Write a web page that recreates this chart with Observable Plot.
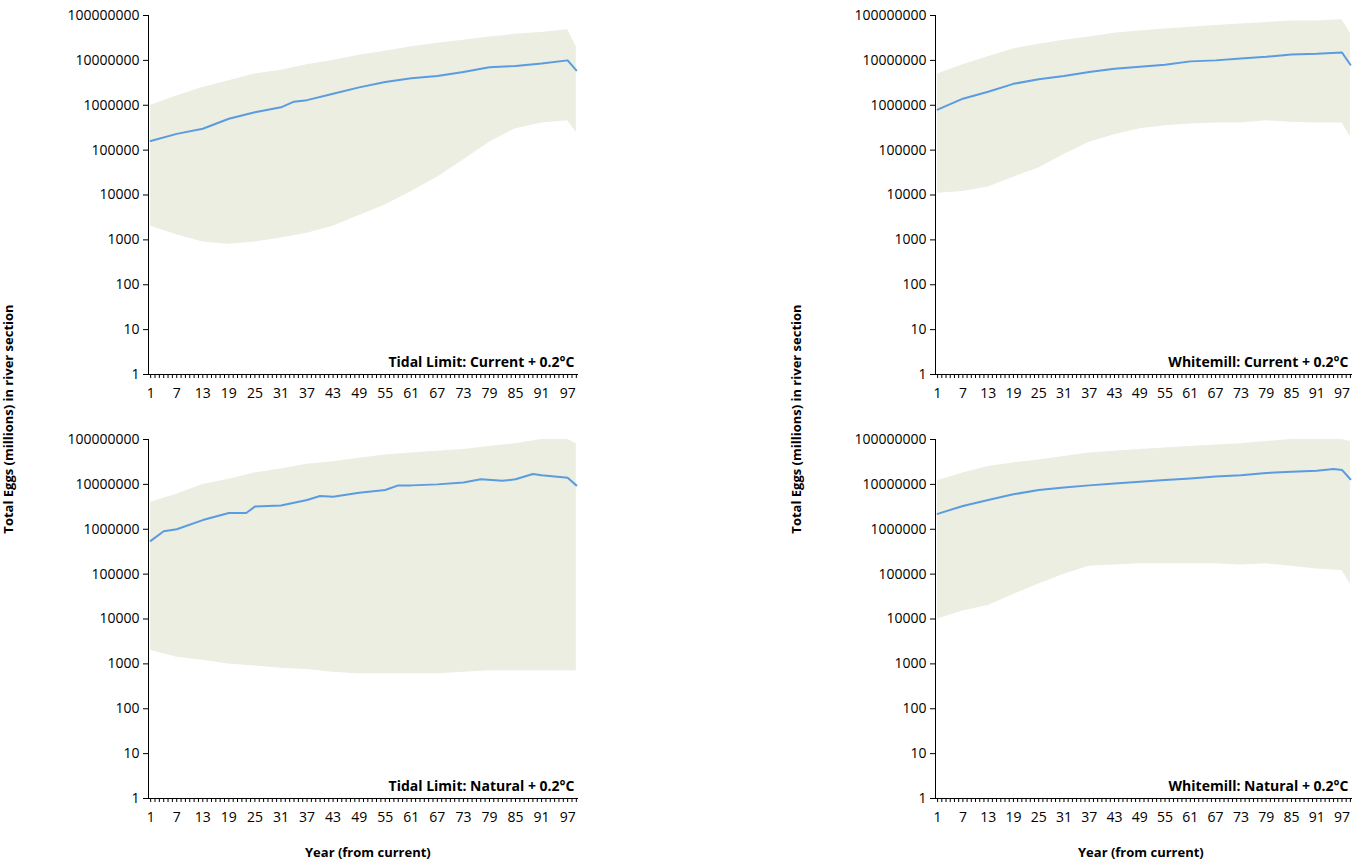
<!DOCTYPE html>
<html>
<head>
<meta charset="utf-8">
<script src="https://cdn.jsdelivr.net/npm/d3@7"></script>
<script src="https://cdn.jsdelivr.net/npm/@observablehq/plot@0.6"></script>
<style>
  body { margin: 0; background: #fff; font-family: "Open Sans", "Liberation Sans", sans-serif; }
  #wrap { position: relative; width: 1357px; height: 865px; overflow: hidden; }
  .panel { position: absolute; }
  .panel svg { max-width: none; }
  .ytitle { position: absolute; font-weight: bold; font-size: 13px; transform: rotate(-90deg); transform-origin: center; white-space: nowrap; }
  .xtitle { position: absolute; font-weight: bold; font-size: 13px; }
</style>
</head>
<body>
<div id="wrap">
  <div class="panel" id="p1" style="left:0;top:0"></div>
  <div class="panel" id="p2" style="left:787px;top:0"></div>
  <div class="panel" id="p3" style="left:0;top:424px"></div>
  <div class="panel" id="p4" style="left:787px;top:424px"></div>
  <div class="ytitle" style="left:-107px;top:410px">Total Eggs (millions) in river section</div>
  <div class="ytitle" style="left:681px;top:410px">Total Eggs (millions) in river section</div>
  <div class="xtitle" style="left:305px;top:843px">Year (from current)</div>
  <div class="xtitle" style="left:1078px;top:843px">Year (from current)</div>
</div>
<script>
// années échantillonnées
const yearsA = [1, 7, 13, 19, 25, 31, 37, 43, 49, 55, 61, 67, 73, 79, 85, 91, 97, 99];

// Tidal Limit: Current
const tcMedYears = [1, 7, 13, 19, 25, 31, 34, 37, 43, 49, 55, 61, 67, 73, 79, 85, 91, 97, 99];
const tcMed = [1.6e5, 2.3e5, 3e5, 5e5, 7e5, 9e5, 1.2e6, 1.3e6, 1.8e6, 2.5e6, 3.3e6, 4e6, 4.5e6, 5.5e6, 7e6, 7.5e6, 8.5e6, 1e7, 6e6];
const tcHigh = [1e6, 1.6e6, 2.5e6, 3.5e6, 5e6, 6e6, 8e6, 1e7, 1.3e7, 1.6e7, 2e7, 2.4e7, 2.8e7, 3.3e7, 3.8e7, 4.2e7, 4.8e7, 2e7];
const tcLow = [2000, 1300, 900, 800, 900, 1100, 1400, 2000, 3500, 6000, 12000, 25000, 60000, 150000, 300000, 400000, 450000, 250000];

// Whitemill: Current
const wcMed = [8e5, 1.4e6, 2e6, 3e6, 3.8e6, 4.5e6, 5.5e6, 6.5e6, 7.2e6, 8e6, 9.5e6, 1e7, 1.1e7, 1.2e7, 1.35e7, 1.4e7, 1.5e7, 8e6];
const wcHigh = [5e6, 8e6, 1.2e7, 1.8e7, 2.3e7, 2.8e7, 3.3e7, 4e7, 4.5e7, 5e7, 5.5e7, 6e7, 6.5e7, 7e7, 7.5e7, 7.5e7, 8e7, 4e7];
const wcLow = [11000, 12000, 15000, 25000, 40000, 80000, 150000, 220000, 300000, 350000, 380000, 400000, 400000, 450000, 420000, 400000, 400000, 200000];

// Tidal Limit: Natural
const tnMedYears = [1, 4, 7, 13, 19, 23, 25, 31, 37, 40, 43, 49, 55, 58, 61, 67, 73, 77, 82, 85, 89, 91, 97, 99];
const tnMed = [5.5e5, 9e5, 1e6, 1.6e6, 2.3e6, 2.3e6, 3.2e6, 3.4e6, 4.5e6, 5.5e6, 5.3e6, 6.5e6, 7.5e6, 9.5e6, 9.5e6, 1e7, 1.1e7, 1.3e7, 1.2e7, 1.3e7, 1.7e7, 1.6e7, 1.4e7, 9.5e6];
const tnHigh = [4e6, 6e6, 1e7, 1.3e7, 1.8e7, 2.2e7, 2.8e7, 3.2e7, 3.8e7, 4.5e7, 5e7, 5.5e7, 6e7, 7e7, 8e7, 1e8, 1e8, 8e7];
const tnLow = [2000, 1400, 1200, 1000, 900, 800, 750, 650, 600, 600, 600, 600, 650, 700, 700, 700, 700, 700];

// Whitemill: Natural
const wnMedYears = [1, 7, 13, 19, 25, 31, 37, 43, 49, 55, 61, 67, 73, 79, 85, 91, 95, 97, 99];
const wnMed = [2.2e6, 3.3e6, 4.5e6, 6e6, 7.5e6, 8.5e6, 9.5e6, 1.05e7, 1.15e7, 1.25e7, 1.35e7, 1.5e7, 1.6e7, 1.8e7, 1.9e7, 2e7, 2.2e7, 2.1e7, 1.3e7];
const wnHigh = [1.2e7, 1.8e7, 2.5e7, 3e7, 3.5e7, 4.2e7, 5e7, 5.5e7, 6e7, 6.5e7, 7e7, 7.5e7, 8e7, 9e7, 1e8, 1e8, 1e8, 9e7];
const wnLow = [10000, 15000, 20000, 35000, 60000, 100000, 150000, 160000, 170000, 170000, 170000, 170000, 160000, 170000, 150000, 130000, 120000, 60000];

const yTicks = [1, 10, 100, 1000, 10000, 100000, 1000000, 10000000, 100000000];
const xTicks = d3.range(1, 100);

function panel(id, title, medYears, med, high, low, width, frameWidth) {
    const band = yearsA.map((y, i) => ({Year: y, high: high[i], low: low[i]}));
    const line = medYears.map((y, i) => ({Year: y, Value: med[i]}));
    const plot = Plot.plot({
        width: width,
        height: 410,
        marginLeft: 148,
        marginRight: width - 148 - frameWidth,
        marginTop: 15,
        marginBottom: 36,
        style: {fontFamily: "'Open Sans', 'Liberation Sans', sans-serif", fontSize: "14px", color: "#000"},
        x: {domain: [0.5, 99.5]},
        y: {type: "log", domain: [1, 1e8]},
        marks: [
            Plot.areaY(band, {x: "Year", y1: "low", y2: "high", fill: "#ebeee1"}),
            Plot.line(line, {x: "Year", y: "Value", stroke: "#5b9bdf", strokeWidth: 2}),
            Plot.axisY({ticks: yTicks, tickFormat: d => String(d), tickSize: 5, tickPadding: 4, label: null, fontSize: 14}),
            Plot.axisX({ticks: xTicks, tickSize: 4, tickPadding: 10, label: null, fontSize: 14,
                tickFormat: d => (d - 1) % 6 === 0 ? String(d) : ""}),
            Plot.ruleX([0.5], {stroke: "#000"}),
            Plot.ruleY([1], {stroke: "#000"}),
            Plot.text([title], {frameAnchor: "bottom-right", dx: -4, dy: -8, fontWeight: "bold", fontSize: 14})
        ]
    });
    document.getElementById(id).appendChild(plot);
}

panel("p1", "Tidal Limit: Current + 0.2°C", tcMedYears, tcMed, tcHigh, tcLow, 590, 430);
panel("p2", "Whitemill: Current + 0.2°C", yearsA, wcMed, wcHigh, wcLow, 570, 417);
panel("p3", "Tidal Limit: Natural + 0.2°C", tnMedYears, tnMed, tnHigh, tnLow, 590, 430);
panel("p4", "Whitemill: Natural + 0.2°C", wnMedYears, wnMed, wnHigh, wnLow, 570, 417);
</script>
</body>
</html>
